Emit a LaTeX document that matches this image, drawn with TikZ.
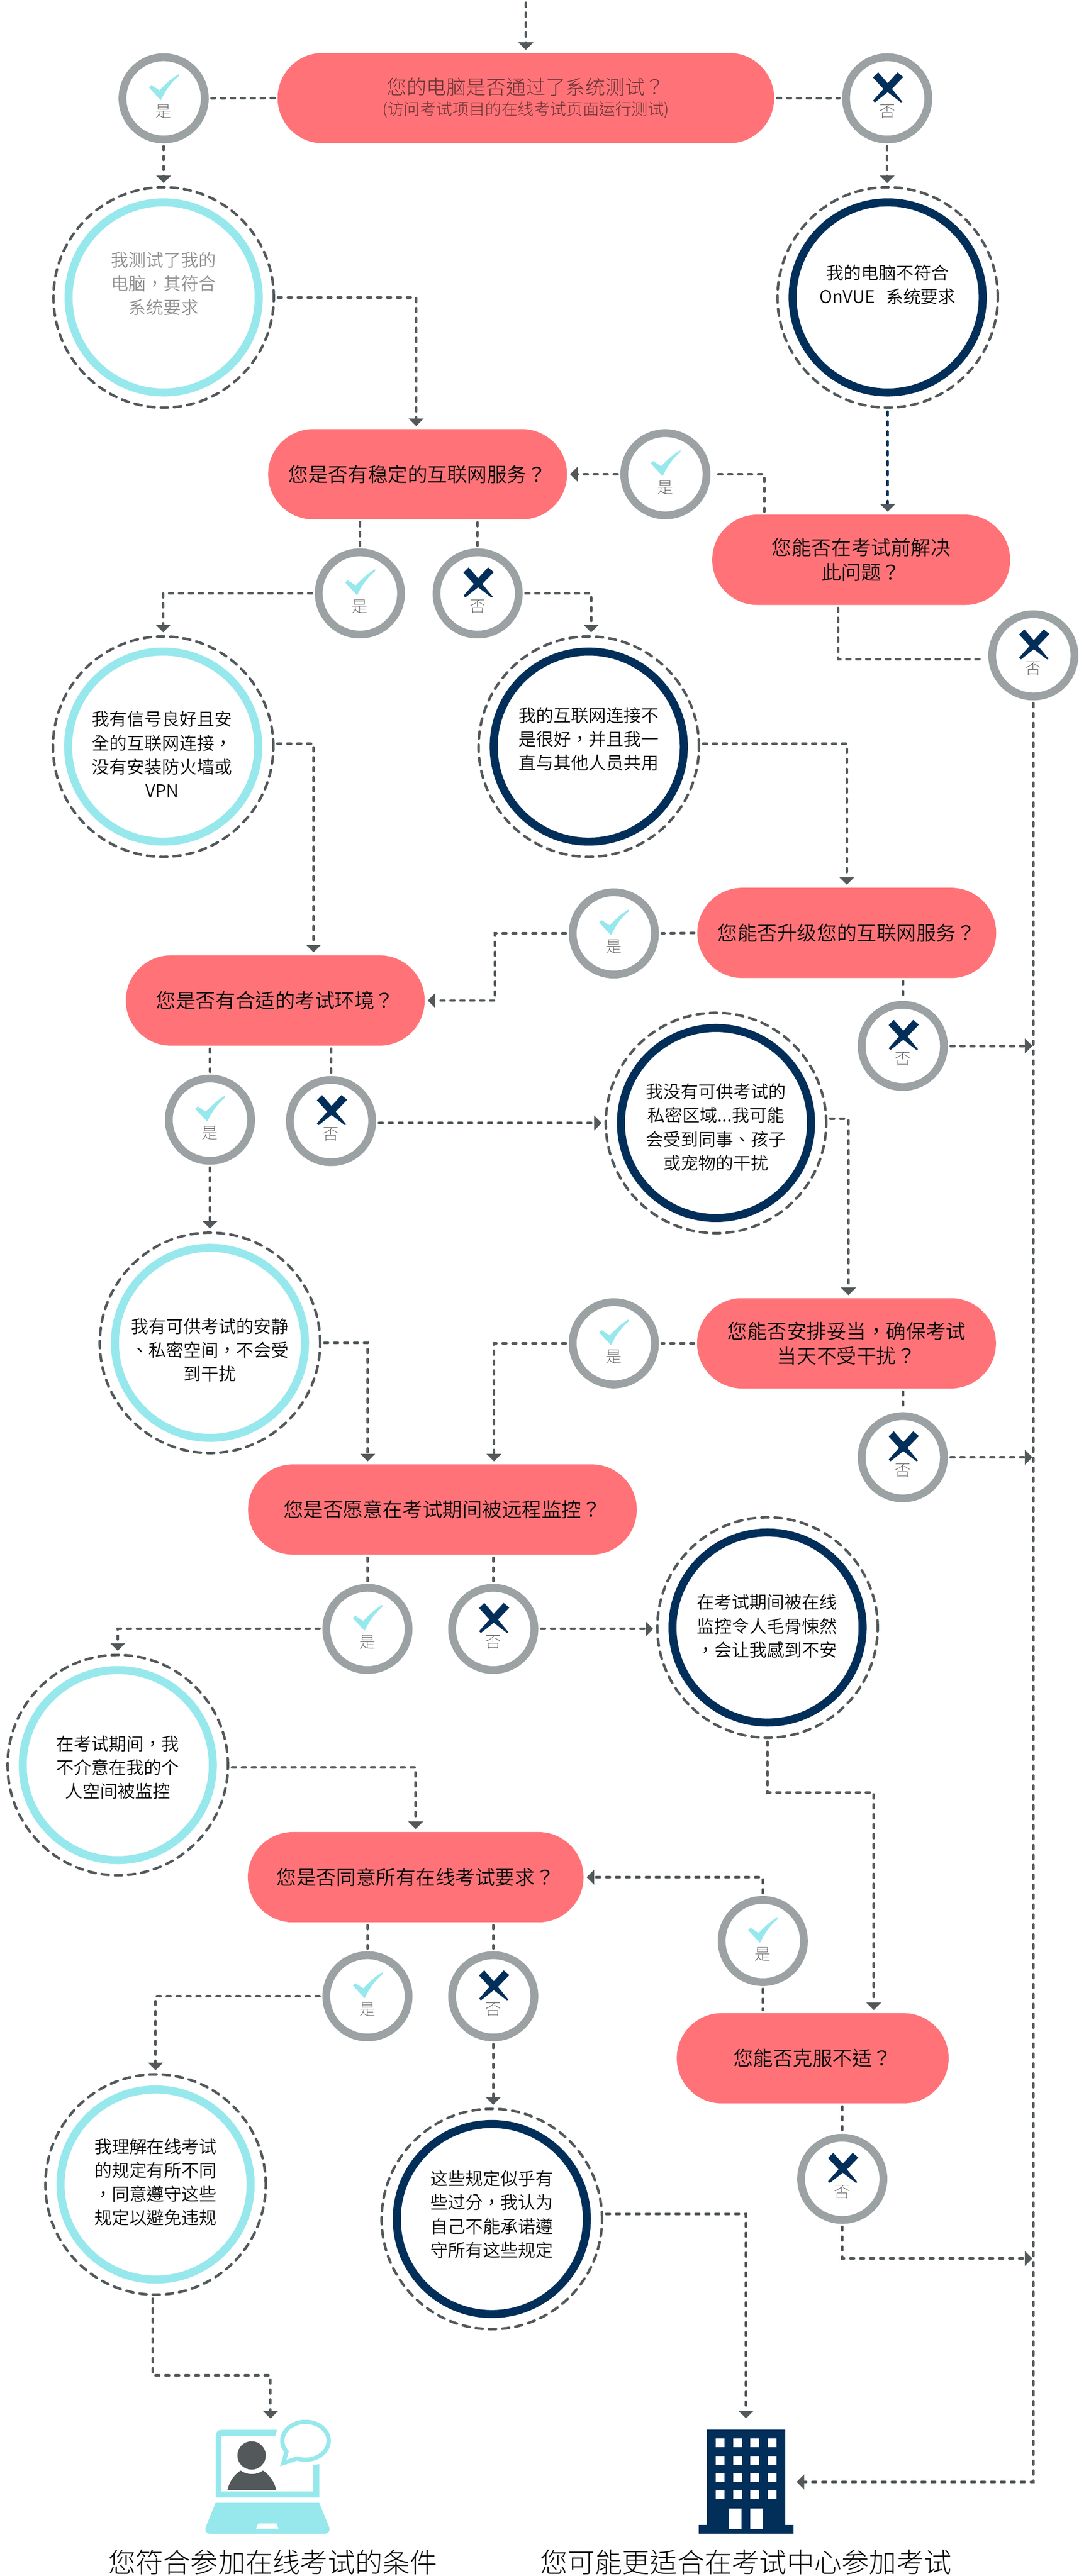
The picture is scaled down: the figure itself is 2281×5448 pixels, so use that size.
\documentclass[tikz,border=0pt]{standalone}
\usepackage{fontspec}
\IfFontExistsTF{Noto Sans CJK TC DemiLight}{\setmainfont{Noto Sans CJK TC DemiLight}}{\setmainfont{Noto Sans CJK TC}}
\IfFontExistsTF{Noto Sans CJK TC Light}{\newfontfamily\capfont{Noto Sans CJK TC Light}}{\newfontfamily\capfont{Noto Sans CJK TC}}
\IfFontExistsTF{Noto Sans CJK TC Thin}{\newfontfamily\ynfont{Noto Sans CJK TC Thin}\colorlet{ynink}{black!75}}{\newfontfamily\ynfont{Noto Sans CJK TC}\colorlet{ynink}{black!55}}
\usetikzlibrary{arrows.meta,calc}
\definecolor{pinkc}{HTML}{FF7378}
\definecolor{tealc}{HTML}{97E8EC}
\definecolor{navyc}{HTML}{022F5A}
\definecolor{ringc}{HTML}{9CA1A3}
\definecolor{linec}{HTML}{53595B}
\definecolor{inkc}{HTML}{080808}
\tikzset{
  pill/.style={rectangle,fill=pinkc,rounded corners=47.75pt,minimum height=95.5pt,inner sep=0pt,align=center,text=inkc,font=\fontsize{21}{26}\selectfont},
  ynring/.style={circle,draw=ringc,fill=white,line width=8.25pt,minimum size=87pt,inner sep=0pt},
  yntext/.style={text=ynink,font=\ynfont\fontsize{17}{20}\selectfont,inner sep=0pt},
  outerring/.style={circle,draw=linec,line width=2.7pt,minimum size=233pt,inner sep=0pt,line cap=round,dash pattern=on 7.5pt off 6.5pt},
  innerring/.style={circle,line width=8.5pt,minimum size=201pt,inner sep=0pt,fill=white},
  bodytext/.style={align=center,text=inkc,font=\fontsize{18.5}{25.2}\selectfont,inner sep=0pt},
  captext/.style={text=inkc,font=\capfont\fontsize{29}{34}\selectfont,inner sep=0pt},
  flow/.style={draw=linec,line width=2.7pt,line cap=round,dash pattern=on 4pt off 6.5pt,shorten <=3pt,shorten >=3pt},
  flowa/.style={flow,-{Triangle[length=8pt,width=15.5pt,fill=linec,color=linec]}},
  iconbox/.style={rectangle,inner sep=0pt,minimum width=#1},
}
\newcommand{\yesnode}[3]{%
  \node[ynring] (#1) at (#2,#3) {};
  \begin{scope}[shift={(#2,#3)}]
    \fill[tealc] (-31,-23)--(-26,-28)--(-9,-17) .. controls (4,-30) and (16,-42) .. (32,-51) -- (32,-47) .. controls (14,-32) and (4,-16) .. (-6,4) -- cycle;
  \end{scope}
  \node[yntext] (#1t) at (#2,#3+28) {是};
}
\newcommand{\nonode}[3]{%
  \node[ynring] (#1) at (#2,#3) {};
  \begin{scope}[shift={(#2,#3)}]
    \fill[navyc] (-30,-44)--(-19,-55)--(1,-32)--(22,-55)--(34,-45)--(10,-20)--(32,7)--(29,8.5)--(1,-13)--(-26,8.5)--(-30,5)--(-8,-20)--cycle;
  \end{scope}
  \node[yntext] (#1t) at (#2,#3+28) {否};
}
\newcommand{\bignode}[4]{%
  \node[outerring] (#1) at (#2,#3) {};
  \node[innerring,draw=#4] (#1i) at (#2,#3) {};
}
\begin{document}
\begin{tikzpicture}[x=0.5pt,y=-0.5pt]
\path[use as bounding box] (0,0) rectangle (2281,5448);

% pills
\node[pill,minimum width=525pt] (p1) at (1112,207.5) {\textcolor{inkc!60!pinkc}{\capfont 您的电脑是否通过了系统测试？}\\[-4pt]\textcolor{inkc!60!pinkc}{\capfont\fontsize{17.2}{20}\selectfont (访问考试项目的在线考试页面运行测试)}};
\node[pill,minimum width=316pt] (p2) at (883,1003) {您是否有稳定的互联网服务？};
\node[pill,minimum width=315pt] (p3) at (1821,1184) {您能否在考试前解决\\此问题？};
\node[pill,minimum width=316pt] (p4) at (1790.5,1973) {您能否升级您的互联网服务？};
\node[pill,minimum width=316pt] (p5) at (582,2116) {您是否有合适的考试环境？};
\node[pill,minimum width=316pt] (p6) at (1790,2841) {您能否安排妥当，确保考试\\当天不受干扰？};
\node[pill,minimum width=411pt] (p7) at (935.5,3192.5) {您是否愿意在考试期间被远程监控？};
\node[pill,minimum width=355pt] (p8) at (879,3970) {您是否同意所有在线考试要求？};
\node[pill,minimum width=287.5pt] (p9) at (1718.5,4353) {您能否克服不适？};

% answer rings
\yesnode{y1}{346}{208}
\nonode{n1}{1876}{208}
\yesnode{y2}{1407}{1003}
\yesnode{y3}{761}{1255}
\nonode{n3}{1010}{1255}
\nonode{n4}{2185}{1386}
\yesnode{y5}{1298}{1974}
\nonode{n6}{1909}{2212}
\yesnode{y7}{444}{2368}
\nonode{n7}{700}{2371}
\yesnode{y8}{1298}{2841}
\nonode{n9}{1909}{3082}
\yesnode{y10}{777}{3445}
\nonode{n10}{1043}{3445}
\yesnode{y11}{1613}{4105}
\nonode{n12}{1781}{4608}
\yesnode{y13}{777}{4222}
\nonode{n13}{1043}{4222}

% big circles
\bignode{b1}{346}{629}{tealc}
\bignode{b2}{1877}{629}{navyc}
\bignode{b3}{345}{1579}{tealc}
\bignode{b4}{1245}{1579}{navyc}
\bignode{b5}{1514}{2375}{navyc}
\bignode{b6}{444}{2840}{tealc}
\bignode{b7}{1623}{3442}{navyc}
\bignode{b8}{249}{3733}{tealc}
\bignode{b9}{329}{4620}{tealc}
\bignode{b10}{1040}{4693}{navyc}

\node[bodytext,text=inkc!45!white] (t1) at (346,600) {我测试了我的\\电脑，其符合\\系统要求};
\node[bodytext] (t2) at (1877,602) {我的电脑不符合\\OnVUE\hspace{7pt} 系统要求};
\node[bodytext] (t3) at (343,1595) {我有信号良好且安\\全的互联网连接，\\没有安装防火墙或\\VPN};
\node[bodytext] (t4) at (1245,1563) {我的互联网连接不\\是很好，并且我一\\直与其他人员共用};
\node[bodytext] (t5) at (1514,2384) {我没有可供考试的\\私密区域...我可能\\会受到同事、孩子\\或宠物的干扰};
\node[bodytext] (t6) at (444,2855) {我有可供考试的安静\\、私密空间，不会受\\到干扰};
\node[bodytext] (t7) at (1622,3439) {在考试期间被在线\\监控令人毛骨悚然\\，会让我感到不安};
\node[bodytext] (t8) at (249,3738) {在考试期间，我\\不介意在我的个\\人空间被监控};
\node[bodytext] (t9) at (329,4615) {我理解在线考试\\的规定有所不同\\，同意遵守这些\\规定以避免违规};
\node[bodytext] (t10) at (1040,4683) {这些规定似乎有\\些过分，我认为\\自己不能承诺遵\\守所有这些规定};

% laptop icon
\node[iconbox=133pt,minimum height=122pt] (lap) at (567,5237) {};
\coordinate (lapin) at (572,5115);
\coordinate (lapmid) at (323,5024);
\fill[tealc,even odd rule] (586,5139) -- (468,5139) .. controls (461,5139) and (456,5144) .. (456,5151) -- (456,5282) -- (675,5282) -- (675,5211) -- (662,5214) -- (662,5269) -- (468,5269) -- (468,5152) -- (582,5152) -- cycle;
\fill[tealc,even odd rule] (456,5293) -- (675,5293) -- (695,5342) .. controls (700,5352) and (694,5359) .. (685,5359) -- (446,5359) .. controls (437,5359) and (431,5352) .. (436,5342) -- cycle
  (546,5337) -- (585,5337) -- (589,5348) -- (541,5348) -- cycle;
\fill[linec] (532,5193) circle [radius=30];
\fill[linec] (481,5266) .. controls (485,5248) and (496,5233) .. (509,5225) .. controls (522,5235) and (543,5235) .. (556,5225) .. controls (569,5233) and (580,5248) .. (584,5266) -- cycle;
\draw[tealc,line width=4.5pt,line join=miter,miter limit=10] (599,5209) -- plot[domain=111:-215,samples=80] ({646+49*cos(\x)},{5162+40*sin(\x)}) -- cycle;

% building icon
\node[iconbox=100.5pt,minimum height=110pt] (bld) at (1577.5,5249) {};
\fill[navyc] (1495,5139) rectangle (1660,5359);
\fill[navyc] (1477,5340) rectangle (1678,5359);
\foreach \wy in {5157,5194,5231,5267} \foreach \wx in {1513,1550,1586,1623} \fill[white] (\wx,\wy) rectangle (\wx+18.5,\wy+19);
\fill[white] (1541,5305) rectangle (1568,5349);
\fill[white] (1586,5305) rectangle (1614,5349);

% captions
\node[captext] (c1) at (577,5419) {您符合参加在线考试的条件};
\node[captext] (c2) at (1577,5419) {您可能更适合在考试中心参加考试};

% connectors
\coordinate (top) at (1112,0);
\draw[flowa] (top) -- (p1.north);
\draw[flow] (p1.west) -- (y1.east);
\draw[flow] (p1.east) -- (n1.west);
\draw[flowa] (y1.south) -- (b1.north);
\draw[flowa] (n1.south) -- (n1.south |- b2.north);
\draw[flowa] (b1.east) -| ($(p2.north)+(-3,0)$);
\draw[flowa,draw=navyc,-{Triangle[length=8pt,width=15.5pt,fill=linec,color=linec]}] (b2.south) -- (b2.south |- p3.north);
\draw[flow] ($(p3.north)+(-205,0)$) |- (y2.east);
\draw[flowa] (y2.west) -- (p2.east);
\draw[flow] ($(p3.south)+(-49,0)$) |- ($(n4.west)+(0,8)$);
\draw[flowa] (n4.south) |- (bld.east);
\draw[flow] (y3.north |- p2.south) -- (y3.north);
\draw[flow] (n3.north |- p2.south) -- (n3.north);
\draw[flowa] (y3.west) -| (b3.north);
\draw[flowa] (n3.east) -| ($(b4.north)+(5,0)$);
\draw[flowa] ($(b3.east)+(0,-6)$) -| ($(p5.north)+(81,0)$);
\draw[flowa] ($(b4.east)+(0,-6)$) -| (p4.north);
\draw[flow] (p4.west) -- (y5.east);
\draw[flowa] (y5.west) -- ++(-156,0) |- (p5.east);
\draw[flow] (n6.north |- p4.south) -- (n6.north);
\draw[flowa,shorten >=1pt] (n6.east) -- (n6.east -| n4.south);
\draw[flow] (y7.north |- p5.south) -- (y7.north);
\draw[flow] (n7.north |- p5.south) -- (n7.north);
\draw[flowa] (y7.south) -- (b6.north);
\draw[flowa] ($(n7.east)+(0,4)$) -- (b5.west);
\draw[flowa] ($(b5.east)+(0,-9)$) -| ($(p6.north)+(4,0)$);
\draw[flowa] (b6.east) -| ($(p7.north)+(-158,0)$);
\draw[flow] (p6.west) -- (y8.east);
\draw[flowa] (y8.west) -| ($(p7.north)+(109,0)$);
\draw[flow] (n9.north |- p6.south) -- (n9.north);
\draw[flowa,shorten >=1pt] (n9.east) -- (n9.east -| n4.south);
\draw[flow] (y10.north |- p7.south) -- (y10.north);
\draw[flow] (n10.north |- p7.south) -- (n10.north);
\draw[flowa] (n10.east) -- (n10.east -| b7.west);
\draw[flowa] (y10.west) -| (b8.north);
\draw[flowa] (b7.south) -- ++(0,113) -| ($(p9.north)+(129,0)$);
\draw[flowa] ($(b8.east)+(0,5)$) -| (p8.north);
\draw[flowa] (y11.north) |- (p8.east);
\draw[flow] (y11.south) -- (y11.south |- p9.north);
\draw[flow] (n12.north |- p9.south) -- (n12.north);
\draw[flowa,shorten >=1pt] (n12.south) |- ($(n4.south |- n12.south)+(0,73)$);
\draw[flow] (y13.north |- p8.south) -- (y13.north);
\draw[flow] (n13.north |- p8.south) -- (n13.north);
\draw[flowa] (y13.west) -| (b9.north);
\draw[flowa] (n13.south) -- (n13.south |- b10.north);
\draw[flowa,shorten >=12pt] ($(b10.east)+(0,-11)$) -| (bld.north);
\draw[flowa,shorten >=0pt] ($(b9.south)+(-6,0)$) |- (lapin |- lapmid) -- (lapin);
\end{tikzpicture}
\end{document}
